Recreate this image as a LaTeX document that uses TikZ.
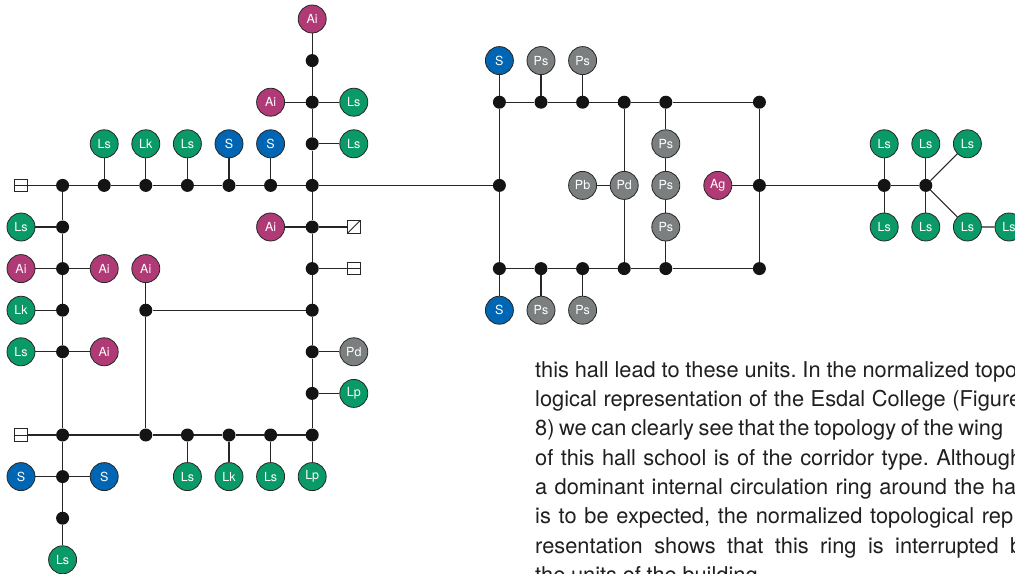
\documentclass[tikz,border=0pt]{standalone}
\usepackage{fontspec}
\setmainfont{TeX Gyre Heros}
\usetikzlibrary{positioning}

\definecolor{unitgreen}{RGB}{10,154,104}
\definecolor{unitblue}{RGB}{0,102,179}
\definecolor{unitpink}{RGB}{176,58,118}
\definecolor{unitgrey}{RGB}{123,127,127}

\newcommand{\bodyfont}{\fontsize{21.8}{29}\selectfont\frenchspacing
  \spaceskip=0.26em plus 0.3em minus 0.1em\relax}

\begin{document}
\begin{tikzpicture}[x=41.6pt, y=-41.6pt,
  every node/.style={font=\fontsize{12.5}{13}\selectfont, text=white},
  unit/.style={circle, draw=black!85, line width=0.8pt, minimum size=28pt, inner sep=0pt},
  gr/.style={unit, fill=unitgreen},
  bl/.style={unit, fill=unitblue},
  pk/.style={unit, fill=unitpink},
  gy/.style={unit, fill=unitgrey},
  jn/.style={circle, fill=black!92, minimum size=13pt, inner sep=0pt},
  door/.style={draw=black!85, line width=0.8pt, minimum size=12.5pt, inner sep=0pt,
    path picture={\draw[line width=0.8pt] (path picture bounding box.west) -- (path picture bounding box.east);}},
  stair/.style={draw=black!85, line width=0.8pt, minimum size=12.5pt, inner sep=0pt,
    path picture={\draw[line width=0.8pt] (path picture bounding box.south west) -- (path picture bounding box.north east);}},
  link/.style={line width=1.1pt, black!85},
  txt/.style={anchor=base west, inner sep=0pt, text=black!88, font=\bodyfont}]

\useasboundingbox (-0.5048,-0.4567) rectangle (23.894,13.341);
\clip (-0.5048,-0.4567) rectangle (23.894,13.341);

% Left wing: vertical spine
\node[pk] (aitop) at (7,0) {Ai};
\node[jn] (v1) at (7,1) {};
\node[jn] (v2) at (7,2) {};
\node[pk] (aiv2) at (6,2) {Ai};
\node[gr] (lsv2) at (8,2) {Ls};
\node[jn] (v3) at (7,3) {};
\node[gr] (lsv3) at (8,3) {Ls};

% Left wing: top corridor
\node[door] (dtop) at (0,4) {};
\node[jn] (h1) at (1,4) {};
\node[jn] (h2) at (2,4) {};
\node[jn] (h3) at (3,4) {};
\node[jn] (h4) at (4,4) {};
\node[jn] (h5) at (5,4) {};
\node[jn] (h6) at (6,4) {};
\node[jn] (h7) at (7,4) {};
\node[gr] (lsh2) at (2,3) {Ls};
\node[gr] (lkh3) at (3,3) {Lk};
\node[gr] (lsh4) at (4,3) {Ls};
\node[bl] (sh5) at (5,3) {S};
\node[bl] (sh6) at (6,3) {S};

% Left wing: west corridor
\node[jn] (w5) at (1,5) {};
\node[gr] (lsw5) at (0,5) {Ls};
\node[jn] (w6) at (1,6) {};
\node[pk] (aiw6a) at (0,6) {Ai};
\node[pk] (aiw6b) at (2,6) {Ai};
\node[jn] (w7) at (1,7) {};
\node[gr] (lkw7) at (0,7) {Lk};
\node[jn] (w8) at (1,8) {};
\node[gr] (lsw8) at (0,8) {Ls};
\node[pk] (aiw8) at (2,8) {Ai};

% Left wing: east corridor
\node[jn] (e5) at (7,5) {};
\node[pk] (aie5) at (6,5) {Ai};
\node[stair] (ste5) at (8,5) {};
\node[jn] (e6) at (7,6) {};
\node[door] (de6) at (8,6) {};
\node[jn] (e7) at (7,7) {};
\node[jn] (e8) at (7,8) {};
\node[gy] (pde8) at (8,8) {Pd};
\node[jn] (e9) at (7,9) {};
\node[gr] (lpe9) at (8,9) {Lp};

% Left wing: inner branch
\node[pk] (aim) at (3,6) {Ai};
\node[jn] (m7) at (3,7) {};

% Left wing: bottom corridor
\node[door] (dbot) at (0,10) {};
\node[jn] (b1) at (1,10) {};
\node[jn] (b3) at (3,10) {};
\node[jn] (b4) at (4,10) {};
\node[jn] (b5) at (5,10) {};
\node[jn] (b6) at (6,10) {};
\node[jn] (b7) at (7,10) {};
\node[gr] (lsb4) at (4,11) {Ls};
\node[gr] (lkb5) at (5,11) {Lk};
\node[gr] (lsb6) at (6,11) {Ls};
\node[gr] (lpb7) at (7,11) {Lp};
\node[jn] (s11) at (1,11) {};
\node[bl] (ss11a) at (0,11) {S};
\node[bl] (ss11b) at (2,11) {S};
\node[jn] (s12) at (1,12) {};
\node[gr] (lss13) at (1,13) {Ls};

% Hall
\node[bl] (shn) at (11.5,1) {S};
\node[gy] (psn1) at (12.5,1) {Ps};
\node[gy] (psn2) at (13.5,1) {Ps};
\node[jn] (n1) at (11.5,2) {};
\node[jn] (n2) at (12.5,2) {};
\node[jn] (n3) at (13.5,2) {};
\node[jn] (n4) at (14.5,2) {};
\node[jn] (n5) at (15.5,2) {};
\node[jn] (n6) at (17.75,2) {};
\node[jn] (c1) at (11.5,4) {};
\node[gy] (pb) at (13.5,4) {Pb};
\node[gy] (pd) at (14.5,4) {Pd};
\node[gy] (psc3) at (15.5,3) {Ps};
\node[gy] (psc4) at (15.5,4) {Ps};
\node[gy] (psc5) at (15.5,5) {Ps};
\node[pk] (ag) at (16.75,4) {Ag};
\node[jn] (c6) at (17.75,4) {};
\node[jn] (s1) at (11.5,6) {};
\node[jn] (s2) at (12.5,6) {};
\node[jn] (s3) at (13.5,6) {};
\node[jn] (s4) at (14.5,6) {};
\node[jn] (s5) at (15.5,6) {};
\node[jn] (s6) at (17.75,6) {};
\node[bl] (shs) at (11.5,7) {S};
\node[gy] (pss1) at (12.5,7) {Ps};
\node[gy] (pss2) at (13.5,7) {Ps};

% Right wing
\node[jn] (r1) at (20.75,4) {};
\node[jn] (r2) at (21.75,4) {};
\node[gr] (lsr1a) at (20.75,3) {Ls};
\node[gr] (lsr1b) at (20.75,5) {Ls};
\node[gr] (lsr2a) at (21.75,3) {Ls};
\node[gr] (lsr2b) at (21.75,5) {Ls};
\node[gr] (lsr3a) at (22.75,3) {Ls};
\node[gr] (lsr3b) at (22.75,5) {Ls};
\node[gr] (lsr4) at (23.75,5) {Ls};

% Connectors, left wing
\draw[link] (aitop) -- (v1) -- (v2) -- (v3) -- (h7) -- (e5) -- (e6) -- (e7) -- (e8) -- (e9) -- (b7) -- (lpb7);
\draw[link] (aiv2) -- (v2) -- (lsv2);
\draw[link] (v3) -- (lsv3);
\draw[link] (dtop) -- (h1) -- (h2) -- (h3) -- (h4) -- (h5) -- (h6) -- (h7);
\draw[link] (lsh2) -- (h2);
\draw[link] (lkh3) -- (h3);
\draw[link] (lsh4) -- (h4);
\draw[link] (sh5) -- (h5);
\draw[link] (sh6) -- (h6);
\draw[link] (h1) -- (w5) -- (w6) -- (w7) -- (w8) -- (b1) -- (s11) -- (s12) -- (lss13);
\draw[link] (lsw5) -- (w5);
\draw[link] (aiw6a) -- (w6) -- (aiw6b);
\draw[link] (lkw7) -- (w7);
\draw[link] (lsw8) -- (w8) -- (aiw8);
\draw[link] (aie5) -- (e5) -- (ste5);
\draw[link] (e6) -- (de6);
\draw[link] (e8) -- (pde8);
\draw[link] (e9) -- (lpe9);
\draw[link] (aim) -- (m7) -- (b3);
\draw[link] (m7) -- (e7);
\draw[link] (dbot) -- (b1) -- (b3) -- (b4) -- (b5) -- (b6) -- (b7);
\draw[link] (b4) -- (lsb4);
\draw[link] (b5) -- (lkb5);
\draw[link] (b6) -- (lsb6);
\draw[link] (ss11a) -- (s11) -- (ss11b);

% Connectors, hall
\draw[link] (h7) -- (c1);
\draw[link] (shn) -- (n1) -- (c1) -- (s1) -- (shs);
\draw[link] (n1) -- (n2) -- (n3) -- (n4) -- (n5) -- (n6) -- (c6) -- (s6) -- (s5) -- (s4) -- (s3) -- (s2) -- (s1);
\draw[link] (psn1) -- (n2);
\draw[link] (psn2) -- (n3);
\draw[link] (pss1) -- (s2);
\draw[link] (pss2) -- (s3);
\draw[link] (n4) -- (pd) -- (s4);
\draw[link] (pb) -- (pd);
\draw[link] (n5) -- (psc3) -- (psc4) -- (psc5) -- (s5);
\draw[link] (ag) -- (c6);

% Connectors, right wing
\draw[link] (c6) -- (r1) -- (r2);
\draw[link] (lsr1a) -- (r1) -- (lsr1b);
\draw[link] (lsr2a) -- (r2) -- (lsr2b);
\draw[link] (r2) -- (lsr3a);
\draw[link] (r2) -- (lsr3b) -- (lsr4);

% Running text
\node[txt] (t1) at (12.356,8.613) {\makebox[482pt][s]{this hall lead to these units. In the normalized topo}};
\node[txt] (t2) at (12.356,9.317) {\makebox[486pt][s]{logical representation of the Esdal College (Figure}};
\node[txt] (t3) at (12.356,10.022) {\makebox[468pt][s]{8) we can clearly see that the topology of the wing}};
\node[txt] (t4) at (12.356,10.726) {\makebox[487pt][s]{of this hall school is of the corridor type. Although}};
\node[txt] (t5) at (12.356,11.430) {\makebox[481pt][s]{a dominant internal circulation ring around the ha}};
\node[txt] (t6) at (12.356,12.135) {\makebox[478pt][s]{is to be expected, the normalized topological rep}};
\node[txt] (t7) at (12.356,12.839) {\makebox[487pt][s]{resentation shows that this ring is interrupted b}};
\node[txt] (t8) at (12.356,13.543) {the units of the building.};

\end{tikzpicture}
\end{document}
